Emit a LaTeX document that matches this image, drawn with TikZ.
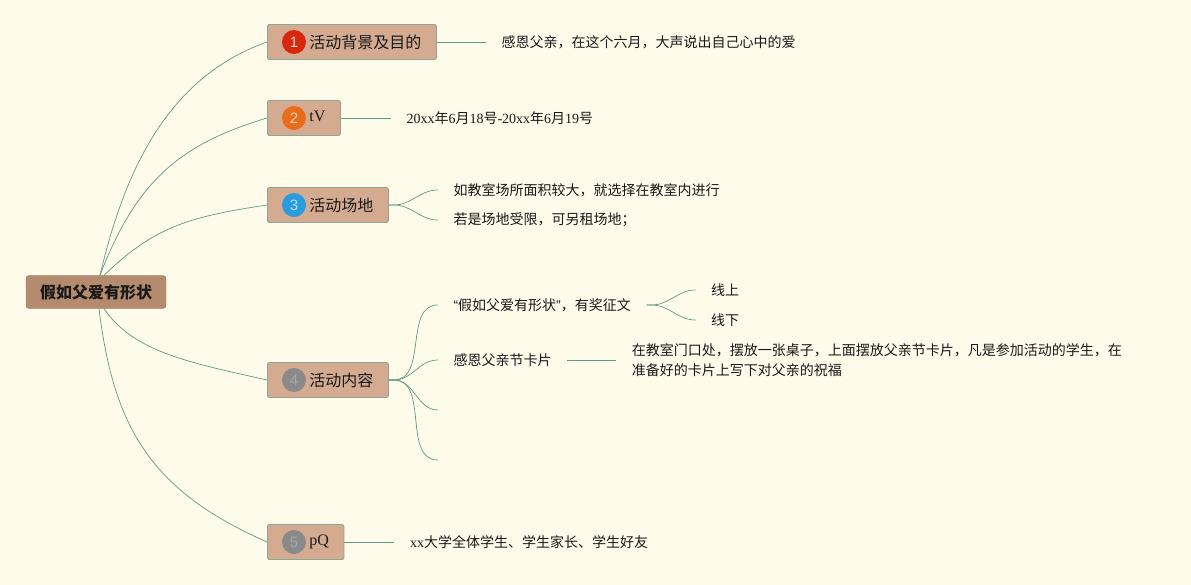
\documentclass[tikz,border=0pt]{standalone}
\usepackage{fontspec}
\setmainfont{Liberation Serif}
\newfontfamily\cjk{Noto Sans CJK SC}
\newfontfamily\numfont{Liberation Sans}
\usetikzlibrary{positioning, calc}
\definecolor{Paper}    {HTML}{FEFBEA}
\definecolor{RootFill} {HTML}{B48B6E}
\definecolor{TopicFill}{HTML}{D4AB90}
\definecolor{TopicEdge}{HTML}{8AA892}
\definecolor{Branch}   {HTML}{5F9A88}
\definecolor{BadgeRed} {HTML}{D9260F}
\definecolor{BadgeOra} {HTML}{E86C1C}
\definecolor{BadgeBlue}{HTML}{2A9CDE}
\definecolor{BadgeGray}{HTML}{8A8A8A}

\tikzset{
  rootbox/.style={fill=RootFill, draw=RootFill!92!black, rounded corners=3pt,
    minimum width=140pt, minimum height=33pt, text=black!90,
    font=\cjk\bfseries\fontsize{16}{19}\selectfont},
  topic/.style={fill=TopicFill, draw=TopicEdge, line width=0.8pt, rounded corners=2pt,
    minimum height=35pt, inner xsep=15pt, anchor=west, text=black!90,
    font=\cjk\fontsize{16}{18}\selectfont},
  badge/.style={circle, inner sep=0pt, minimum size=24pt,
    font=\numfont\fontsize{15}{15}\selectfont},
  leaf/.style={inner xsep=15.5pt, inner ysep=2pt, anchor=west, align=left,
    text=black!90, font=\cjk\fontsize{14}{20}\selectfont},
  branch/.style={draw=Branch, line width=0.7pt},
}

\begin{document}
\begin{tikzpicture}[x=1pt, y=-1pt]
  \fill[Paper] (0,0) rectangle (1191,585);
  \useasboundingbox (0,0) rectangle (1191,585);

  % central topic
  \node[rootbox] (root) at (96,292) {假如父爱有形状};

  % main topics
  \node[topic] (b1) at (267,42)  {\hspace*{27pt}活动背景及目的};
  \node[topic] (b2) at (267,118) {\hspace*{27pt}\rmfamily\raisebox{3pt}{tV}};
  \node[topic] (b3) at (267,205) {\hspace*{27pt}活动场地};
  \node[topic] (b4) at (267,380) {\hspace*{27pt}活动内容};
  \node[topic] (b5) at (267,542) {\hspace*{27pt}\rmfamily\raisebox{3pt}{pQ}};

  % number badges
  \node[badge, fill=BadgeRed,  text=white!80!BadgeRed]  (n1) at ($(b1.west)+(27,0)$) {1};
  \node[badge, fill=BadgeOra,  text=white!70!BadgeOra]  (n2) at ($(b2.west)+(27,0)$) {2};
  \node[badge, fill=BadgeBlue, text=white!65!BadgeBlue] (n3) at ($(b3.west)+(27,0)$) {3};
  \node[badge, fill=BadgeGray, text=white!25!BadgeGray] (n4) at ($(b4.west)+(27,0)$) {4};
  \node[badge, fill=BadgeGray, text=white!25!BadgeGray] (n5) at ($(b5.west)+(27,0)$) {5};

  % details
  \node[leaf, right=49pt of b1] (l1) {感恩父亲，在这个六月，大声说出自己心中的爱};
  \node[leaf, right=50pt of b2] (l2) {\rmfamily 20xx{\cjk 年}6{\cjk 月}18{\cjk 号}-20xx{\cjk 年}6{\cjk 月}19{\cjk 号}};
  \node[leaf] (l31) at ($(b3.east)+(49,-15)$) {如教室场所面积较大，就选择在教室内进行};
  \node[leaf] (l32) at ($(b3.east)+(49,15)$)  {若是场地受限，可另租场地；};
  \node[leaf] (l41) at ($(b4.east)+(49,-75)$) {{\numfont “}假如父爱有形状{\numfont ”}，有奖征文};
  \node[leaf] (l42) at ($(b4.east)+(49,-20)$) {感恩父亲节卡片};
  \coordinate (e43) at ($(b4.east)+(49,30)$);
  \coordinate (e44) at ($(b4.east)+(49,80)$);
  \node[leaf] (l411) at ($(l41.east)+(49,-15)$) {线上};
  \node[leaf] (l412) at ($(l41.east)+(49,15)$)  {线下};
  \node[leaf, right=49pt of l42] (l421) {在教室门口处，摆放一张桌子，上面摆放父亲节卡片，凡是参加活动的学生，在\\准备好的卡片上写下对父亲的祝福};
  \node[leaf, right=50pt of b5] (l5) {{\rmfamily xx}大学全体学生、学生家长、学生好友};

  % connectors from the centre
  \draw[branch] ($(root.north)+(4,0)$) .. controls +(26,-111) and +(-96,34) .. (b1.west);
  \draw[branch] ($(root.north)+(4,0)$) .. controls +(37,-96) and +(-86,26) .. (b2.west);
  \draw[branch] ($(root.north)+(8,0)$) .. controls +(50,-48) and +(-80,12) .. (b3.west);
  \draw[branch] ($(root.south)+(8,0)$) .. controls +(30,44) and +(-75,-17) .. (b4.west);
  \draw[branch] ($(root.south)+(3,0)$) .. controls +(15,123) and +(-113,-50) .. (b5.west);

  % connectors to the details
  \draw[branch] (b1.east) -- (l1.west);
  \draw[branch] (b2.east) -- (l2.west);
  \draw[branch] (b3.east) -- ++(5,0) to[out=0, in=180] (l31.west);
  \draw[branch] (b3.east) -- ++(5,0) to[out=0, in=180] (l32.west);
  \draw[branch] (b4.east) -- ++(5,0) to[out=0, in=180] (l41.west);
  \draw[branch] (b4.east) -- ++(5,0) to[out=0, in=180] (l42.west);
  \draw[branch] (b4.east) -- ++(5,0) to[out=0, in=180] (e43);
  \draw[branch] (b4.east) -- ++(5,0) to[out=0, in=180] (e44);
  \draw[branch] (l41.east) -- ++(5,0) to[out=0, in=180] (l411.west);
  \draw[branch] (l41.east) -- ++(5,0) to[out=0, in=180] (l412.west);
  \draw[branch] (l42.east) -- (l421.west);
  \draw[branch] (b5.east) -- (l5.west);
\end{tikzpicture}
\end{document}
